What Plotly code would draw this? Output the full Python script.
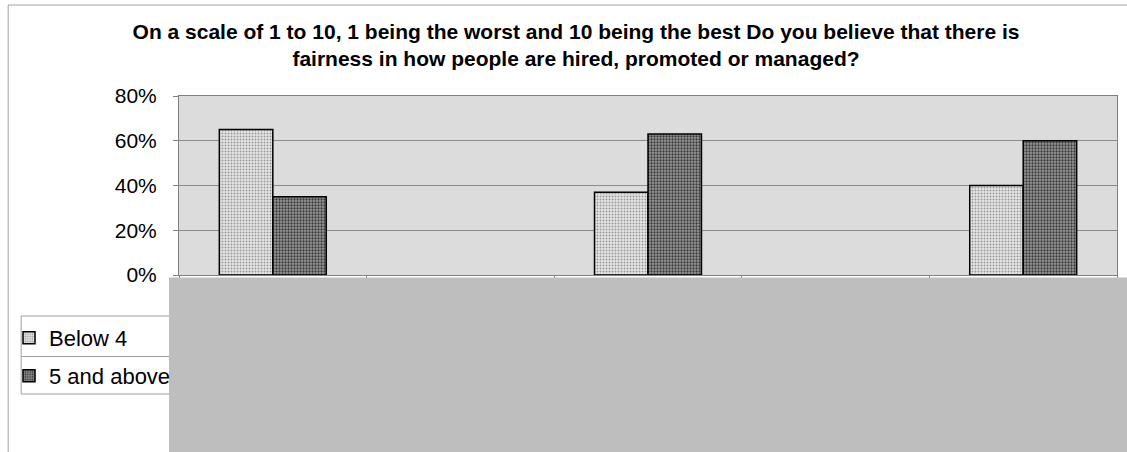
import plotly.graph_objects as go

# ---- data ----
categories = ["Group 1", "Group 2", "Group 3", "Group 4", "Group 5"]
below_4 = [65, None, 37, None, 40]
five_and_above = [35, None, 63, None, 60]
series_names = ["Below 4", "5 and above"]
y_ticks = [0, 20, 40, 60, 80]
y_tick_labels = ["0%", "20%", "40%", "60%", "80%"]
title_text = ("On a scale of 1 to 10, 1 being the worst and 10 being the best Do you believe that there is"
              "<br>fairness in how people are hired, promoted or managed?")

W, H = 1127, 452
L, R, T, B = 178, 10, 96, 177
PW = W - L - R
PH = H - T - B

def xp(px):
    return (px - L) / PW

def yp(py):
    return (H - B - py) / PH

FONT = "Liberation Sans, Arial, sans-serif"

fig = go.Figure()
fig.add_trace(go.Bar(
    x=categories, y=below_4, name=series_names[0],
    marker=dict(color="#d4d4d4", line=dict(color="#000000", width=1.5),
                pattern=dict(shape=".", bgcolor="#e6e6e6", fgcolor="#9a9a9a",
                             size=3, solidity=0.35, fillmode="replace")),
    legend="legend",
))
fig.add_trace(go.Bar(
    x=categories, y=five_and_above, name=series_names[1],
    marker=dict(color="#7c7c7c", line=dict(color="#000000", width=1.5),
                pattern=dict(shape=".", bgcolor="#9a9a9a", fgcolor="#3a3a3a",
                             size=3, solidity=0.45, fillmode="replace")),
    legend="legend2",
))

grey_line = "#a0a0a0"
shapes = [
    # outer chart border
    dict(type="line", xref="paper", yref="paper", x0=xp(7), x1=xp(W + 5), y0=yp(5), y1=yp(5),
         line=dict(color=grey_line, width=1)),
    dict(type="line", xref="paper", yref="paper", x0=xp(7), x1=xp(7), y0=yp(5), y1=yp(H + 5),
         line=dict(color=grey_line, width=1)),
    # legend frame
    dict(type="line", xref="paper", yref="paper", x0=xp(20), x1=xp(168), y0=yp(316), y1=yp(316),
         line=dict(color=grey_line, width=1)),
    dict(type="line", xref="paper", yref="paper", x0=xp(20), x1=xp(168), y0=yp(356.5), y1=yp(356.5),
         line=dict(color=grey_line, width=1)),
    dict(type="line", xref="paper", yref="paper", x0=xp(20), x1=xp(168), y0=yp(394), y1=yp(394),
         line=dict(color=grey_line, width=1)),
    dict(type="line", xref="paper", yref="paper", x0=xp(20), x1=xp(20), y0=yp(316), y1=yp(394),
         line=dict(color=grey_line, width=1)),
    # grey covering box
    dict(type="rect", xref="paper", yref="paper", x0=xp(168), x1=xp(W + 5), y0=yp(H + 5), y1=yp(277.5),
         fillcolor="#bebebe", line=dict(width=0), layer="above"),
]

fig.update_layout(
    width=W, height=H,
    margin=dict(l=L, r=R, t=T, b=B, pad=0),
    paper_bgcolor="#ffffff",
    plot_bgcolor="#dcdcdc",
    barmode="group",
    bargap=0.43,
    bargroupgap=0,
    font=dict(family=FONT, color="#000000"),
    title=dict(text=title_text, x=576 / W, xanchor="center", xref="container",
               y=1 - 39 / H, yanchor="top",
               font=dict(family=FONT, size=21, weight="bold", color="#000000")),
    xaxis=dict(type="category", categoryorder="array", categoryarray=categories,
               showticklabels=False, showgrid=False, tickson="boundaries",
               ticks="outside", ticklen=3, tickcolor="#808080",
               showline=True, linecolor="#808080", linewidth=1, mirror=True, zeroline=False),
    yaxis=dict(range=[0, 80], tickvals=y_ticks, ticktext=y_tick_labels,
               ticks="outside", ticklen=5, tickcolor="#808080",
               tickfont=dict(family=FONT, size=21, color="#000000"),
               showgrid=True, gridcolor="#8c8c8c", gridwidth=1,
               showline=True, linecolor="#808080", linewidth=1, mirror=True, zeroline=False,
               ticklabelstandoff=12),
    legend=dict(x=xp(9), xanchor="left", y=yp(338), yanchor="middle",
                bgcolor="rgba(0,0,0,0)", borderwidth=0,
                font=dict(family=FONT, size=22, color="#000000"),
                itemwidth=30),
    legend2=dict(x=xp(9), xanchor="left", y=yp(376), yanchor="middle",
                 bgcolor="rgba(0,0,0,0)", borderwidth=0,
                 font=dict(family=FONT, size=22, color="#000000"),
                 itemwidth=30),
    shapes=shapes,
    showlegend=True,
)

fig.write_html("out.html")
